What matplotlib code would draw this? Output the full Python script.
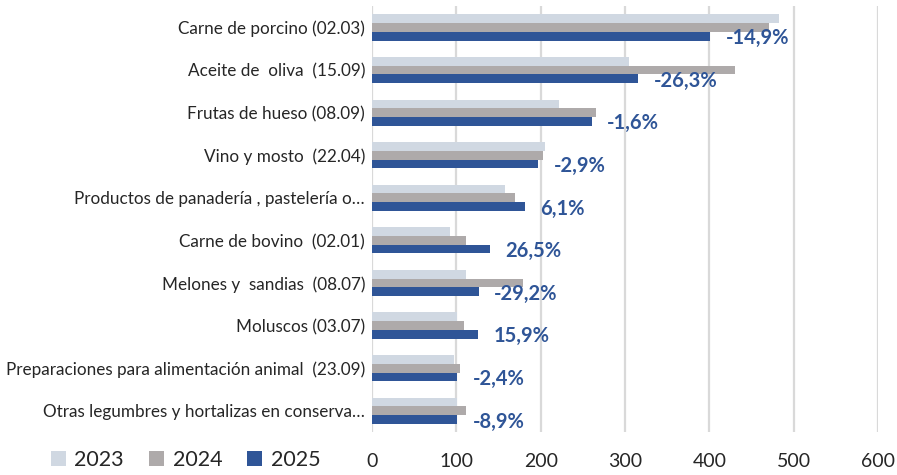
import matplotlib.pyplot as plt
import numpy as np

# data
categories = ['Carne de porcino (02.03)', 'Aceite de  oliva  (15.09)', 'Frutas de hueso (08.09)',
              'Vino y mosto  (22.04)', 'Productos de panadería , pastelería o…', 'Carne de bovino  (02.01)',
              'Melones y  sandias  (08.07)', 'Moluscos (03.07)',
              'Preparaciones para alimentación animal  (23.09)', 'Otras legumbres y hortalizas en conserva…']
v2023 = [483, 305, 222, 205, 158, 93, 112, 101, 97, 101]
v2024 = [471, 430, 266, 203, 170, 111, 179, 109, 104, 111]
v2025 = [401, 316, 261, 197, 181, 140, 127, 126, 101, 101]
changes = ['-14,9%', '-26,3%', '-1,6%', '-2,9%', '6,1%', '26,5%', '-29,2%', '15,9%', '-2,4%', '-8,9%']

plt.rcParams['font.family'] = ['Lato', 'DejaVu Sans']

fig = plt.figure(figsize=(8.97, 4.75), dpi=100)
ax = fig.add_axes([0.4147, 0.0905, 0.5641, 0.8965])

y = np.arange(len(categories))
h = 0.205
ax.barh(y - h, v2023, height=h, color='#D0D8E2', label='2023')
ax.barh(y, v2024, height=h, color='#AEAAAA', label='2024')
ax.barh(y + h, v2025, height=h, color='#2F5597', label='2025')

# percent change labels next to the 2025 bar
for i, (v, txt) in enumerate(zip(v2025, changes)):
    ax.annotate(txt, (v, y[i] + h), xytext=(11, -1.5), textcoords='offset points',
                ha='left', va='center', fontsize=14.5, fontweight='bold', color='#2F5597')

ax.set_xlim(0, 600)
ax.set_ylim(len(categories) - 0.5, -0.5)
ax.set_xticks(range(0, 601, 100))
ax.set_yticks(y)
ax.set_yticklabels(categories, fontsize=12.3, color='#262626')
ax.tick_params(axis='x', labelsize=14, length=0, pad=15, colors='#262626')
ax.tick_params(axis='y', length=0, pad=5)
ax.grid(axis='x', color='#D9D9D9', linewidth=1.6)
ax.set_axisbelow(True)
for s in ax.spines.values():
    s.set_visible(False)

fig.legend(loc='lower left', bbox_to_anchor=(0.035, -0.03), ncol=3, frameon=False,
           fontsize=15.5, handlelength=0.7, handleheight=0.7, handletextpad=0.4,
           columnspacing=1.15, labelcolor='#262626')

fig.savefig('out.png', dpi=100)
